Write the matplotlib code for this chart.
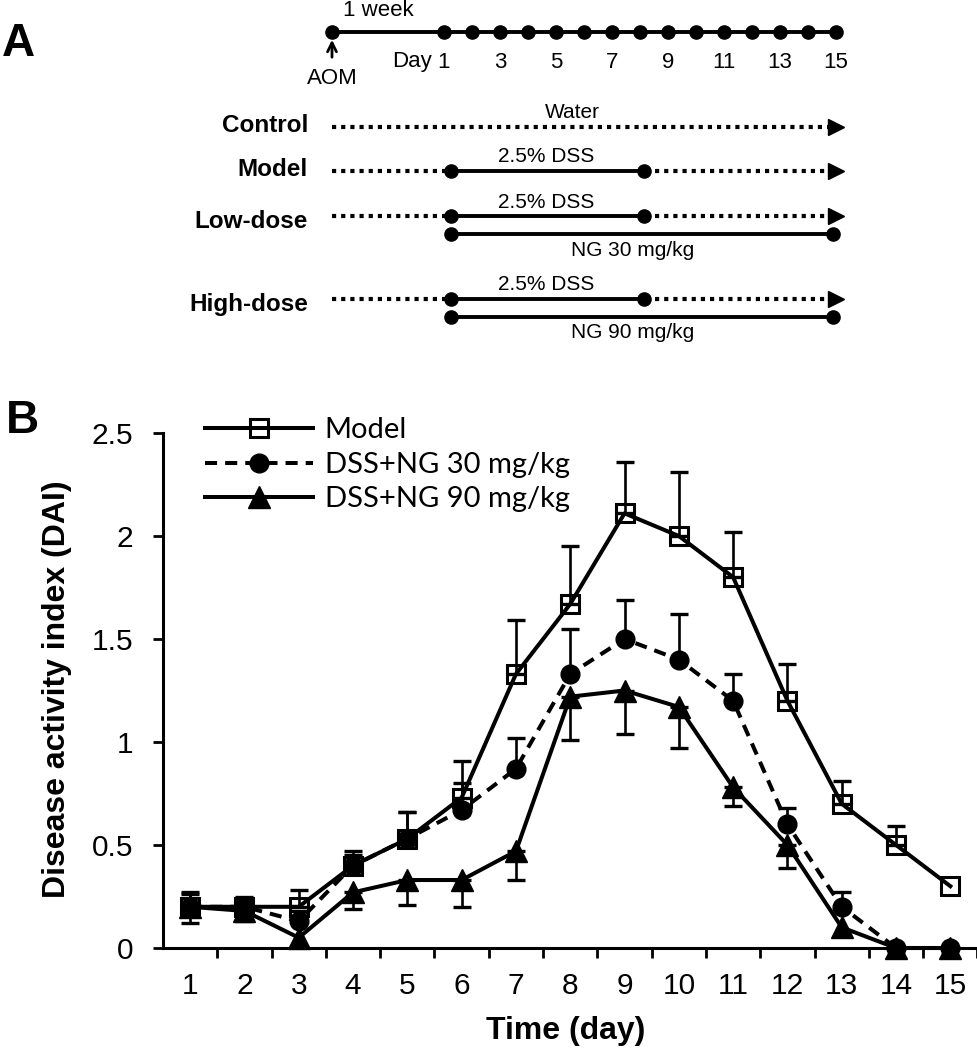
import numpy as np
import matplotlib
matplotlib.use("Agg")
import matplotlib.pyplot as plt

# ---------------- data ----------------
days = np.arange(1, 16)
model = [0.20, 0.20, 0.20, 0.40, 0.53, 0.73, 1.33, 1.67, 2.11, 2.00, 1.80, 1.20, 0.70, 0.50, 0.30]
model_err = [0.07, 0.05, 0.08, 0.07, 0.13, 0.18, 0.26, 0.28, 0.25, 0.31, 0.22, 0.18, 0.11, 0.09, 0.00]
ng30 = [0.20, 0.20, 0.13, 0.40, 0.53, 0.67, 0.87, 1.33, 1.50, 1.40, 1.20, 0.60, 0.20, 0.00, 0.00]
ng30_err = [0.06, 0.04, 0.05, 0.05, 0.13, 0.13, 0.15, 0.22, 0.19, 0.22, 0.13, 0.08, 0.07, 0.00, 0.00]
ng90 = [0.20, 0.18, 0.05, 0.27, 0.33, 0.33, 0.47, 1.22, 1.25, 1.17, 0.78, 0.50, 0.10, 0.00, 0.00]
ng90_err = [0.08, 0.05, 0.00, 0.08, 0.12, 0.13, 0.14, 0.21, 0.21, 0.20, 0.09, 0.11, 0.00, 0.00, 0.00]
series_labels = ["Model", "DSS+NG 30 mg/kg", "DSS+NG 90 mg/kg"]
yticks = [0, 0.5, 1, 1.5, 2, 2.5]
ytick_labels = ["0", "0.5", "1", "1.5", "2", "2.5"]

# schematic (panel A)
timeline_days = np.arange(1, 16)
timeline_labels_days = [1, 3, 5, 7, 9, 11, 13, 15]
aom_day = -3
dss_period = [1, 8]
ng_period = [1, 15]
group_names = ["Control", "Model", "Low-dose", "High-dose"]
ng_doses = [None, None, "NG 30 mg/kg", "NG 90 mg/kg"]

FONT = ["Liberation Sans", "DejaVu Sans"]
plt.rcParams["font.family"] = FONT

fig = plt.figure(figsize=(9.78, 10.5), dpi=100)

# ---------------- panel A (schematic) ----------------
H_A = 380
axA = fig.add_axes([0, 1 - H_A / 1050, 1, H_A / 1050])
axA.set_xlim(1 - 444 / 28, 1 + 534 / 28)
axA.set_ylim(H_A, 0)
axA.axis("off")

dot_ms = 9.5
sol_lw = 2.8
dot_ls = (0, (1.0, 1.2))
dot_lw = 3.0
shift = 0.25   # schematic offset of the DSS/NG dots
arrow_end = 15.25
fs_a = 16

# timeline
y_tl = 32
axA.plot([aom_day, timeline_days[-1]], [y_tl, y_tl], color="k", lw=2.8, solid_capstyle="butt")
axA.plot([aom_day], [y_tl], "o", color="k", ms=dot_ms)
axA.plot(timeline_days, [y_tl] * len(timeline_days), "o", color="k", ms=dot_ms)
axA.text((aom_day + 1) / 2 - 0.35, 11, "1 week", ha="center", va="center", fontsize=fs_a)
axA.text(1 - 0.45, 62, "Day", ha="right", va="center", fontsize=fs_a)
for d in timeline_labels_days:
    axA.text(d, 62, str(d), ha="center", va="center", fontsize=fs_a)
axA.annotate("", xy=(aom_day, 37), xytext=(aom_day, 60),
             arrowprops=dict(arrowstyle="->", lw=2.0, color="k", mutation_scale=16))
axA.text(aom_day, 78, "AOM", ha="center", va="center", fontsize=fs_a)

row_y = [127, 171, 216, 299]
ng_dy = 18
label_x = (308 - 444) / 28 + 1

for i, (name, dose) in enumerate(zip(group_names, ng_doses)):
    y = row_y[i]
    lab_y = y - 2 if i < 2 else y + 6
    axA.text(label_x, lab_y, name, ha="right", va="center", fontsize=17.5, fontweight="bold")
    if i == 0:
        axA.plot([aom_day, arrow_end - 0.45], [y, y], color="k", lw=dot_lw, ls=dot_ls, dash_capstyle="butt")
        axA.plot([arrow_end - 0.25], [y], marker=">", color="k", ms=11)
        axA.text(5.6, y - 14, "Water", ha="center", va="center", fontsize=fs_a - 1)
        continue
    s0, s1 = dss_period[0] + shift, dss_period[1] + 0.15
    axA.plot([aom_day, s0], [y, y], color="k", lw=dot_lw, ls=dot_ls, dash_capstyle="butt")
    axA.plot([s0, s1], [y, y], color="k", lw=sol_lw, solid_capstyle="butt")
    axA.plot([s0, s1], [y, y], "o", color="k", ms=dot_ms)
    axA.plot([s1 + 0.4, arrow_end - 0.45], [y, y], color="k", lw=dot_lw, ls=dot_ls, dash_capstyle="butt")
    axA.plot([arrow_end - 0.25], [y], marker=">", color="k", ms=11)
    axA.text((s0 + s1) / 2 - 0.05, y - 14, "2.5% DSS", ha="center", va="center", fontsize=fs_a - 1)
    if dose is not None:
        y2 = y + ng_dy
        n0, n1 = ng_period[0] + shift, ng_period[1] - 0.1
        axA.plot([n0, n1], [y2, y2], color="k", lw=sol_lw, solid_capstyle="butt")
        axA.plot([n0, n1], [y2, y2], "o", color="k", ms=dot_ms)
        axA.text(7.75, y2 + 16, dose, ha="center", va="center", fontsize=fs_a - 1)

fig.text(18 / 978, 1 - 44 / 1050, "A", ha="center", va="center", fontsize=33, fontweight="bold")
fig.text(22 / 978, 1 - 421 / 1050, "B", ha="center", va="center", fontsize=33, fontweight="bold")

# ---------------- panel B ----------------
L, R, T, B = 163, 977.5, 433, 948
ax = fig.add_axes([L / 978, 1 - B / 1050, (R - L) / 978, (B - T) / 1050])

x = days.astype(float)
zeros = np.zeros(len(x))

def err(xv, yv, e, up=True):
    e = np.asarray(e)
    m = e > 0
    yv = np.asarray(yv)
    yerr = [zeros[m], e[m]] if up else [e[m], zeros[m]]
    ax.errorbar(xv[m], yv[m], yerr=yerr, fmt="none", ecolor="k", elinewidth=1.9,
                capsize=6.8, capthick=2.4, zorder=2)

err(x, ng90, ng90_err, up=False)
err(x, ng30, ng30_err, up=True)
err(x, model, model_err, up=True)

h2, = ax.plot(x, ng30, color="k", lw=2.9, ls=(0, (3.0, 2.0)), marker="o", ms=13.5, mfc="k", mec="k",
              zorder=3, label=series_labels[1], clip_on=False)
h3, = ax.plot(x, ng90, "-", color="k", lw=2.9, marker="^", ms=15.5, mfc="k", mec="k", zorder=4,
              label=series_labels[2], clip_on=False)
h1, = ax.plot(x, model, "-", color="k", lw=2.9, marker="s", ms=12.5, mfc="none", mec="k", mew=2.2,
              zorder=5, label=series_labels[0], clip_on=False)

ax.set_xlim(0.5, 15.5)
ax.set_ylim(0, 2.5)
ax.set_yticks(yticks)
ax.set_yticklabels(ytick_labels)
ax.set_xticks(days)
ax.set_xticklabels([str(d) for d in days])
ax.set_xticks(np.arange(1.5, 16, 1.0), minor=True)
ax.tick_params(axis="x", which="major", length=0, pad=17, labelsize=21.5)
ax.tick_params(axis="x", which="minor", length=7.2, width=2.0, direction="out")
ax.tick_params(axis="y", which="major", length=7.2, width=2.0, direction="out", pad=14, labelsize=21.5)
for s in ["top", "right"]:
    ax.spines[s].set_visible(False)
for s in ["left", "bottom"]:
    ax.spines[s].set_linewidth(2.2)
    ax.spines[s].set_zorder(2.5)

leg = ax.legend(handles=[h1, h2, h3], loc="upper left", bbox_to_anchor=((205 - L) / (R - L), (B - 417) / (B - T)),
                frameon=False, handlelength=3.7, handletextpad=0.4, labelspacing=0.3,
                borderpad=0, borderaxespad=0, prop={"family": ["Lato", "DejaVu Sans"], "size": 21})

fig.text(57 / 978, 1 - 689 / 1050, "Disease activity index (DAI)", rotation=90, ha="center", va="center",
         fontsize=23, fontweight="bold")
fig.text(566 / 978, 1 - 1031 / 1050, "Time (day)", ha="center", va="center", fontsize=23, fontweight="bold")

fig.savefig("out.png", dpi=100)
